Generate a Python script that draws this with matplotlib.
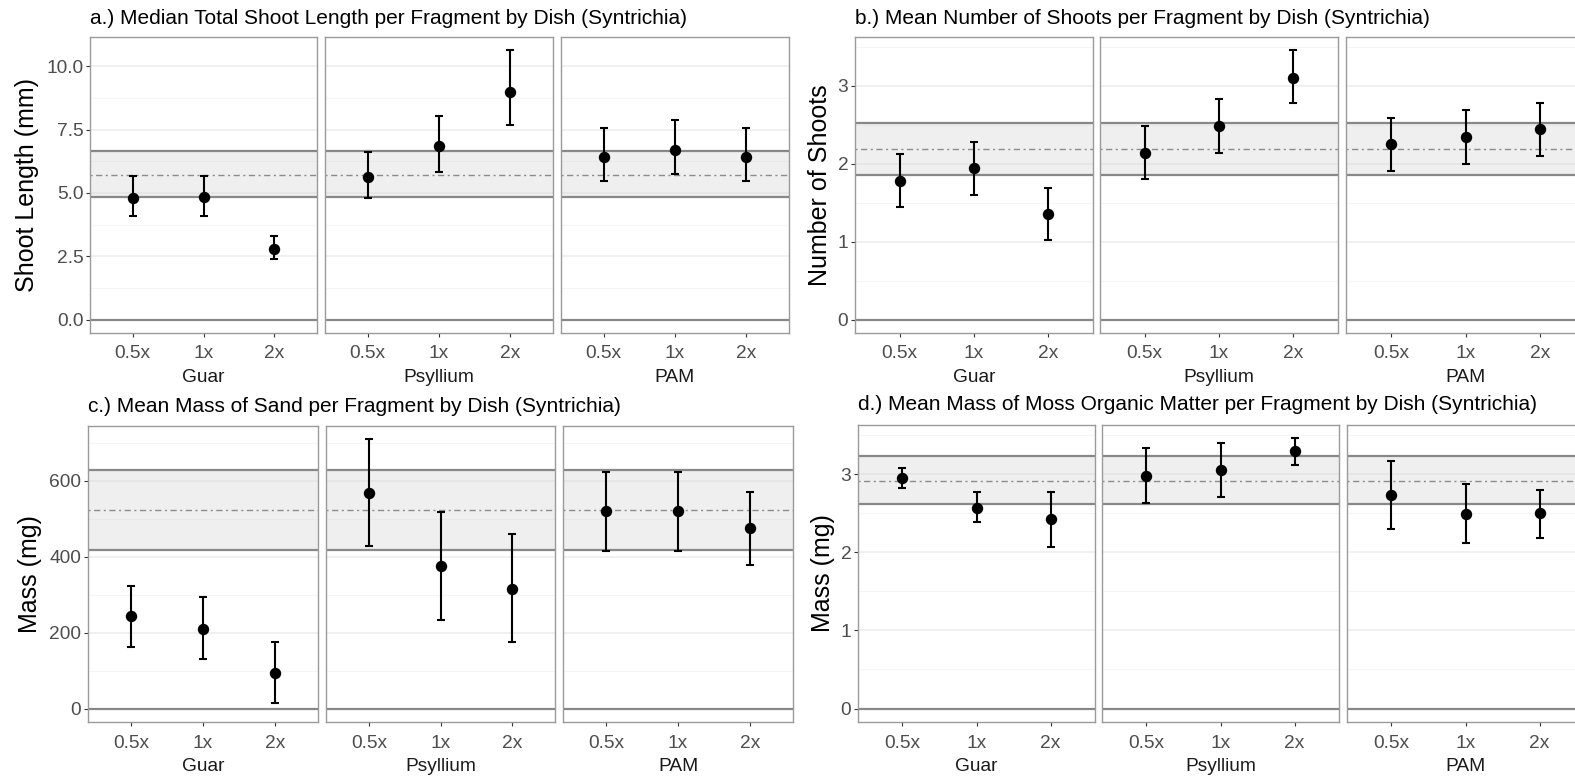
import matplotlib
matplotlib.use("Agg")
import matplotlib.pyplot as plt
from matplotlib.ticker import FixedLocator

plt.rcParams['font.family'] = ['Liberation Sans', 'DejaVu Sans']

W, H = 1575, 778
DPI = 100

facets = ["Guar", "Psyllium", "PAM"]
doses = ["0.5x", "1x", "2x"]

# Panel a: Median total shoot length (mm)
means_a = [4.80, 4.82, 2.79, 5.64, 6.84, 9.00, 6.42, 6.68, 6.42]
lo_a = [4.09, 4.10, 2.37, 4.80, 5.81, 7.68, 5.48, 5.73, 5.47]
hi_a = [5.65, 5.65, 3.29, 6.62, 8.03, 10.62, 7.56, 7.89, 7.56]
band_a = (4.85, 6.67)
ref_a = 5.69

# Panel b: Mean number of shoots
means_b = [1.78, 1.94, 1.35, 2.13, 2.48, 3.10, 2.25, 2.34, 2.44]
lo_b = [1.44, 1.60, 1.02, 1.80, 2.14, 2.77, 1.91, 2.00, 2.10]
hi_b = [2.12, 2.28, 1.69, 2.48, 2.83, 3.45, 2.59, 2.69, 2.78]
band_b = (1.85, 2.52)
ref_b = 2.185

# Panel c: Mean mass of sand (mg)
means_c = [243, 210, 94, 567, 375, 316, 520, 520, 475]
lo_c = [162, 131, 14, 427, 234, 176, 414, 416, 379]
hi_c = [323, 293, 176, 709, 517, 459, 624, 624, 571]
band_c = (419, 628)
ref_c = 522

# Panel d: Mean mass of moss organic matter (mg)
means_d = [2.96, 2.57, 2.43, 2.98, 3.05, 3.30, 2.74, 2.49, 2.50]
lo_d = [2.82, 2.39, 2.07, 2.63, 2.71, 3.12, 2.30, 2.12, 2.19]
hi_d = [3.08, 2.77, 2.78, 3.34, 3.40, 3.46, 3.17, 2.88, 2.80]
band_d = (2.62, 3.24)
ref_d = 2.92

titles = [
    "a.) Median Total Shoot Length per Fragment by Dish (Syntrichia)",
    "b.) Mean Number of Shoots per Fragment by Dish (Syntrichia)",
    "c.) Mean Mass of Sand per Fragment by Dish (Syntrichia)",
    "d.) Mean Mass of Moss Organic Matter per Fragment by Dish (Syntrichia)",
]
ylabels = ["Shoot Length (mm)", "Number of Shoots", "Mass (mg)", "Mass (mg)"]
major_a = [0, 2.5, 5.0, 7.5, 10.0]
major_b = [0, 1, 2, 3]
major_c = [0, 200, 400, 600]
major_d = [0, 1, 2, 3]
labels_a = ["0.0", "2.5", "5.0", "7.5", "10.0"]
labels_b = ["0", "1", "2", "3"]
labels_c = ["0", "200", "400", "600"]
labels_d = ["0", "1", "2", "3"]

# layout in pixels: facet x-extents and panel y-extents
layout = [
    dict(xs=[(90, 317), (325, 553), (561, 789)], y=(37, 333), title_xy=(90, 19), ylab_x=27),
    dict(xs=[(855, 1093), (1100, 1338), (1346, 1585)], y=(37, 333), title_xy=(855, 19), ylab_x=820),
    dict(xs=[(88, 318), (326, 555), (563, 793)], y=(426, 722), title_xy=(88, 406), ylab_x=30),
    dict(xs=[(858, 1095), (1102, 1339), (1347, 1584)], y=(425, 722), title_xy=(858, 405), ylab_x=823),
]

panels = [
    (means_a, lo_a, hi_a, band_a, ref_a, major_a, labels_a),
    (means_b, lo_b, hi_b, band_b, ref_b, major_b, labels_b),
    (means_c, lo_c, hi_c, band_c, ref_c, major_c, labels_c),
    (means_d, lo_d, hi_d, band_d, ref_d, major_d, labels_d),
]

fig = plt.figure(figsize=(W / DPI, H / DPI), dpi=DPI)
fig.patch.set_facecolor("white")

GRID = "#ECECEC"
BORDER = "#9A9A9A"
LINEGRAY = "#888888"
TICKCOL = "#4D4D4D"
FS_TICK = 13.8
FS_TITLE = 15
FS_YLAB = 18

for p, (means, lo, hi, band, ref, major, mlabels) in enumerate(panels):
    L = layout[p]
    y0, y1 = L["y"]
    top = max(max(hi), band[1])
    bot = min(0, min(lo))
    pad = 0.05 * (top - bot)
    ylim = (bot - pad, top + pad)
    minor = [(major[i] + major[i + 1]) / 2 for i in range(len(major) - 1)]
    minor.append(major[-1] + (major[1] - major[0]) / 2)
    for f, (x0, x1) in enumerate(L["xs"]):
        ax = fig.add_axes([x0 / W, 1 - y1 / H, (x1 - x0) / W, (y1 - y0) / H])
        ax.set_xlim(0.4, 3.6)
        ax.set_ylim(*ylim)
        for m in minor:
            ax.axhline(m, color="#F5F5F5", lw=0.8, zorder=0)
        for m in major:
            ax.axhline(m, color=GRID, lw=1.1, zorder=0)
        ax.axhspan(band[0], band[1], color="#D9D9D9", alpha=0.4, lw=0, zorder=1)
        ax.axhline(band[0], color=LINEGRAY, lw=1.6, zorder=2)
        ax.axhline(band[1], color=LINEGRAY, lw=1.6, zorder=2)
        ax.axhline(0, color=LINEGRAY, lw=1.6, zorder=2)
        ax.axhline(ref, color="#8C8C8C", lw=1.0, dashes=(1.5, 2.5, 4.5, 2.5), zorder=2)
        sl = slice(3 * f, 3 * f + 3)
        m = means[sl]
        l = lo[sl]
        h = hi[sl]
        xs = [1, 2, 3]
        ax.errorbar(xs, m, yerr=[[mi - li for mi, li in zip(m, l)], [hi_ - mi for mi, hi_ in zip(m, h)]],
                    fmt="o", color="black", ms=7.2, elinewidth=1.5, capsize=2.8, capthick=1.5, zorder=4)
        ax.set_xticks(xs)
        ax.set_xticklabels(doses)
        ax.yaxis.set_major_locator(FixedLocator(major))
        if f == 0:
            ax.set_yticklabels(mlabels)
        else:
            ax.tick_params(axis="y", left=False, labelleft=False)
        ax.tick_params(axis="both", direction="out", length=3, width=0.8, color="#333333",
                       labelcolor=TICKCOL, labelsize=FS_TICK, pad=1.8)
        ax.tick_params(axis="x", pad=6.0)
        for s in ax.spines.values():
            s.set_color(BORDER)
            s.set_linewidth(1.0)
        ax.set_xlabel(facets[f], fontsize=FS_TICK, color="#1A1A1A", labelpad=5.0)
    tx, ty = L["title_xy"]
    fig.text(tx / W, 1 - ty / H, titles[p], fontsize=FS_TITLE, color="black", ha="left", va="center")
    fig.text(L["ylab_x"] / W, 1 - ((y0 + y1) / 2) / H, ylabels[p], fontsize=FS_YLAB, color="black",
             rotation=90, ha="center", va="center")

fig.savefig("out.png", dpi=DPI, facecolor="white")
